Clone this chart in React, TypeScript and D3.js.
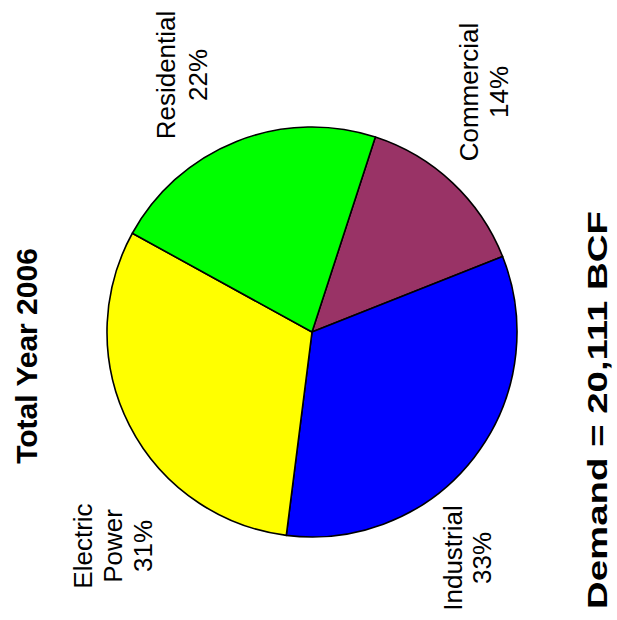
import React from "react";
import * as d3 from "d3";

const categories = ["Commercial", "Industrial", "Electric Power", "Residential"];
const values = [14, 33, 31, 22];
const colors = ["#993366", "#0000FF", "#FFFF00", "#00FF00"];
const labelLines = [
  ["Commercial", "14%"],
  ["Industrial", "33%"],
  ["Electric", "Power", "31%"],
  ["Residential", "22%"],
];
const title = "Total Year 2006";
const subtitle = "Demand = 20,111 BCF";

const W = 617;
const H = 620;
const CX = 312;
const CY = 332;
const R = 205;
const START_DEG = 18;

// label anchor: x = first baseline (screen), y = centre along rotated text
const labelAnchors = [
  { x: 478, y: 92, lh: 30 },
  { x: 462, y: 558, lh: 29 },
  { x: 92, y: 546, lh: 30 },
  { x: 175, y: 75, lh: 32 },
];

export default function App() {
  const rad = (START_DEG * Math.PI) / 180;
  const pie = d3
    .pie<number>()
    .sort(null)
    .value((d) => d)
    .startAngle(rad)
    .endAngle(rad + 2 * Math.PI);
  const arcs = pie(values);
  const arc = d3.arc<d3.PieArcDatum<number>>().innerRadius(0).outerRadius(R);
  const font = "'Liberation Sans', Arial, Helvetica, sans-serif";

  return (
    <svg
      width={W}
      height={H}
      style={{ position: "absolute", left: 0, top: 0, background: "#fff" }}
      fontFamily={font}
    >
      <rect x={0} y={0} width={W} height={H} fill="#ffffff" />
      <g transform={`translate(${CX},${CY})`}>
        {arcs.map((a, i) => (
          <path
            key={categories[i]}
            d={arc(a) || ""}
            fill={colors[i]}
            stroke="#000"
            strokeWidth={1.6}
            strokeLinejoin="round"
          />
        ))}
      </g>
      {labelLines.map((lines, i) => {
        const p = labelAnchors[i];
        return (
          <text
            key={categories[i]}
            transform={`translate(${p.x},${p.y}) rotate(-90)`}
            textAnchor="middle"
            fontSize={26}
            fill="#000"
          >
            {lines.map((ln, j) => (
              <tspan key={j} x={0} y={j * p.lh}>
                {ln}
              </tspan>
            ))}
          </text>
        );
      })}
      <text
        transform={`translate(37,356) rotate(-90)`}
        textAnchor="middle"
        fontSize={30}
        fontWeight="bold"
        fill="#000"
      >
        {title}
      </text>
      <text
        transform={`translate(607,410) rotate(-90)`}
        textAnchor="middle"
        fontSize={28}
        fontWeight="bold"
        fill="#000"
        textLength={398}
        lengthAdjust="spacingAndGlyphs"
      >
        {subtitle}
      </text>
    </svg>
  );
}
